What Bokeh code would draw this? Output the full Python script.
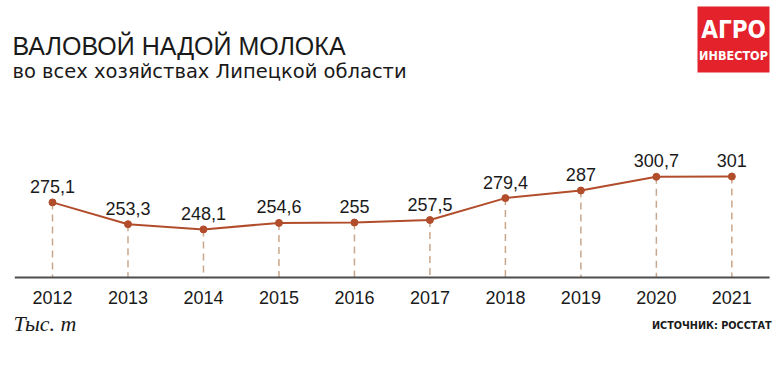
from bokeh.plotting import figure
from bokeh.models import Label, BoxAnnotation, Range1d
from bokeh.core.properties import value
from bokeh.embed import file_html
from bokeh.resources import INLINE

# ---- data ----
years = [2012, 2013, 2014, 2015, 2016, 2017, 2018, 2019, 2020, 2021]
milk = [275.1, 253.3, 248.1, 254.6, 255.0, 257.5, 279.4, 287.0, 300.7, 301.0]
value_labels = ["275,1", "253,3", "248,1", "254,6", "255", "257,5", "279,4", "287", "300,7", "301"]
year_labels = [str(y) for y in years]
baseline_value = 200

title_text = "ВАЛОВОЙ НАДОЙ МОЛОКА"
subtitle_text = "во всех хозяйствах Липецкой области"
unit_text = "Тыс. т"
source_text = "ИСТОЧНИК: РОССТАТ"
logo_top = "АГРО"
logo_bottom = "ИНВЕСТОР"

# ---- styles ----
LINE = "#B24D2C"
DASH = "#C9A78C"
TEXT = "#1a1a1a"
W, H = 782, 368

p = figure(width=W, height=H, output_backend="svg", toolbar_location=None,
           x_range=Range1d(2011.311, 2021.671), y_range=Range1d(109, 477),
           x_axis_type=None, y_axis_type=None,
           min_border=0, min_border_left=0, min_border_right=0,
           min_border_top=0, min_border_bottom=0)
p.grid.visible = False
p.outline_line_color = None
p.background_fill_color = "white"
p.border_fill_color = "white"

# dashed drop lines
p.segment(x0=years, y0=milk, x1=years, y1=[baseline_value] * len(years),
          line_color=DASH, line_width=1.5, line_dash="7 5")
# baseline
p.segment(x0=[years[0] - 0.5], y0=[baseline_value], x1=[years[-1] + 0.5], y1=[baseline_value],
          line_color="#4d4d4d", line_width=2)
# series
p.line(years, milk, line_color=LINE, line_width=2)
p.scatter(years, milk, size=7, fill_color=LINE, line_color=LINE)

p.text(x=years, y=milk, text=value_labels, y_offset=-16, text_align="center",
       text_baseline="alphabetic", text_font=value("Liberation Sans"),
       text_font_size="18px", text_color=TEXT)
p.text(x=years, y=[baseline_value] * len(years), text=year_labels, y_offset=20,
       text_align="center", text_baseline="alphabetic", text_font=value("Liberation Sans"),
       text_font_size="18px", text_color=TEXT)

def lab(txt, x, y, size, font="Liberation Sans", style="normal", align="left", color=TEXT):
    p.add_layout(Label(x=x, y=y, x_units="screen", y_units="screen", text=txt,
                       text_font=font, text_font_size=size, text_font_style=style,
                       text_align=align, text_baseline="alphabetic", text_color=color))

lab(title_text, 12, 323, "25px")
lab(subtitle_text, 12, 297, "19.5px", font="DejaVu Sans")
lab(unit_text, 13, 45, "22px", font="Liberation Serif", style="italic")
lab(source_text, 771, 43, "9.7px", font="DejaVu Sans", style="bold", align="right")

# logo
p.add_layout(BoxAnnotation(left=697, right=769, top=362, bottom=296,
                           left_units="screen", right_units="screen",
                           top_units="screen", bottom_units="screen",
                           fill_color="#E3222B", fill_alpha=1, line_color=None))
lab(logo_top, 733, 339, "24px", font="'DejaVu Sans Condensed', Roboto", style="bold",
    align="center", color="white")
lab(logo_bottom, 733, 313, "12.5px", font="'DejaVu Sans Condensed', Roboto", style="bold",
    align="center", color="white")

open("out.html", "w").write(file_html(p, INLINE))
